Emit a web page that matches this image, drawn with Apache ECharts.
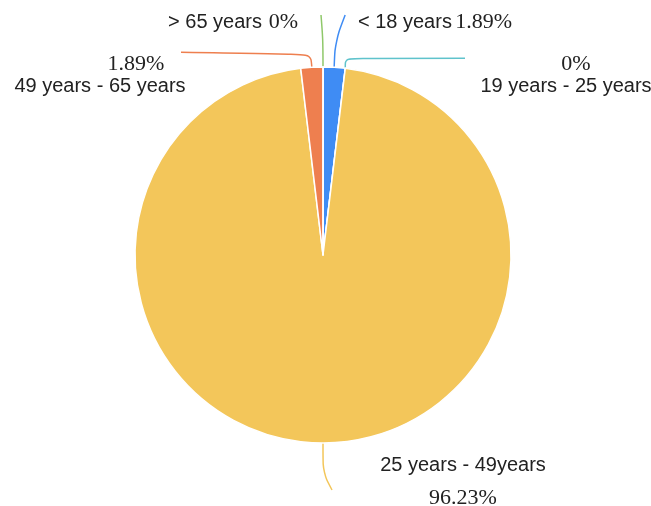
<!DOCTYPE html>
<html>
<head>
<meta charset="utf-8">
<style>
  html, body { margin: 0; padding: 0; background: #fff; }
  #chart { width: 651px; height: 506px; }
</style>
<script src="https://cdn.jsdelivr.net/npm/echarts@6/dist/echarts.min.js"></script>
</head>
<body>
<div id="chart"></div>
<script>
// Age groups, clockwise from 12 o'clock
const categories = ['< 18 years', '19 years - 25 years', '25 years - 49years', '49 years - 65 years', '> 65 years'];
const shares = [1.89, 0, 96.23, 1.89, 0];
const colors = ['#3f8cf4', '#5fc3cc', '#f3c65a', '#ee7f4f', '#8fc86a'];

const SANS = '"Liberation Sans", Arial, Helvetica, sans-serif';
const SERIF = '"Liberation Serif", "Times New Roman", serif';

// Where each label block sits (block centre)
const labelSpots = [
  { x: 435, y: 22 },
  { x: 566, y: 75 },
  { x: 463, y: 483 },
  { x: 100, y: 75 },
  { x: 233, y: 22 }
];

function labelText(p) {
  const pct = '{p|' + p.value + '%}';
  switch (p.dataIndex) {
    case 0: return '{n|' + p.name + '} ' + pct;
    case 4: return '{n|' + p.name + '}  ' + pct;
    case 1: return '{p1|' + p.value + '%}\n{n|' + p.name + '}';
    case 3: return '{p3|' + p.value + '%}\n{n|' + p.name + '}';
    case 2: return '{n2|' + p.name + '}\n{p2|' + p.value + '%}';
  }
  return p.name;
}

// Leader lines: start on the slice rim, bend out toward the label
function leader(i, s) {
  const x = s[0], y = s[1];
  switch (i) {
    case 0: return [[x, y], [x + 1, y - 26], [x + 11, 15]];
    case 1: return [[x, y], [x, y - 10], [465, y - 10]];
    case 2: return [[x, y], [x, y + 30], [x + 9, y + 47]];
    case 3: return [[x, y], [x - 1, y - 13], [181, y - 15]];
    case 4: return [[x, y], [x, y - 28], [x - 2, 15]];
  }
  return null;
}

const chart = echarts.init(document.getElementById('chart'), null, { renderer: 'canvas' });

chart.setOption({
  animation: false,
  backgroundColor: '#ffffff',
  series: [{
    type: 'pie',
    center: [323, 255],
    radius: 188,
    startAngle: 90,
    clockwise: true,
    avoidLabelOverlap: false,
    minShowLabelAngle: 0,
    itemStyle: { borderColor: '#ffffff', borderWidth: 1.5 },
    label: {
      show: true,
      position: 'outside',
      formatter: labelText,
      color: '#222',
      rich: {
        n: { fontFamily: SANS, fontSize: 20, color: '#222', lineHeight: 22 },
        n2: { fontFamily: SANS, fontSize: 20, color: '#222', lineHeight: 30 },
        p: { fontFamily: SERIF, fontSize: 22, color: '#222', lineHeight: 22 },
        p1: { fontFamily: SERIF, fontSize: 22, color: '#222', lineHeight: 22, padding: [0, 0, 0, 20] },
        p3: { fontFamily: SERIF, fontSize: 22, color: '#222', lineHeight: 22, padding: [0, 0, 0, 72] },
        p2: { fontFamily: SERIF, fontSize: 22, color: '#222', lineHeight: 36 }
      }
    },
    labelLine: {
      show: true,
      smooth: 0.35,
      lineStyle: { width: 1.5 }
    },
    labelLayout: function (p) {
      const spot = labelSpots[p.dataIndex];
      const out = { x: spot.x, y: spot.y, align: 'center', verticalAlign: 'middle' };
      if (p.labelLinePoints && p.labelLinePoints[0]) {
        out.labelLinePoints = leader(p.dataIndex, p.labelLinePoints[0]);
      }
      return out;
    },
    data: categories.map(function (name, i) {
      return { name: name, value: shares[i], itemStyle: { color: colors[i] } };
    })
  }]
});
</script>
</body>
</html>
